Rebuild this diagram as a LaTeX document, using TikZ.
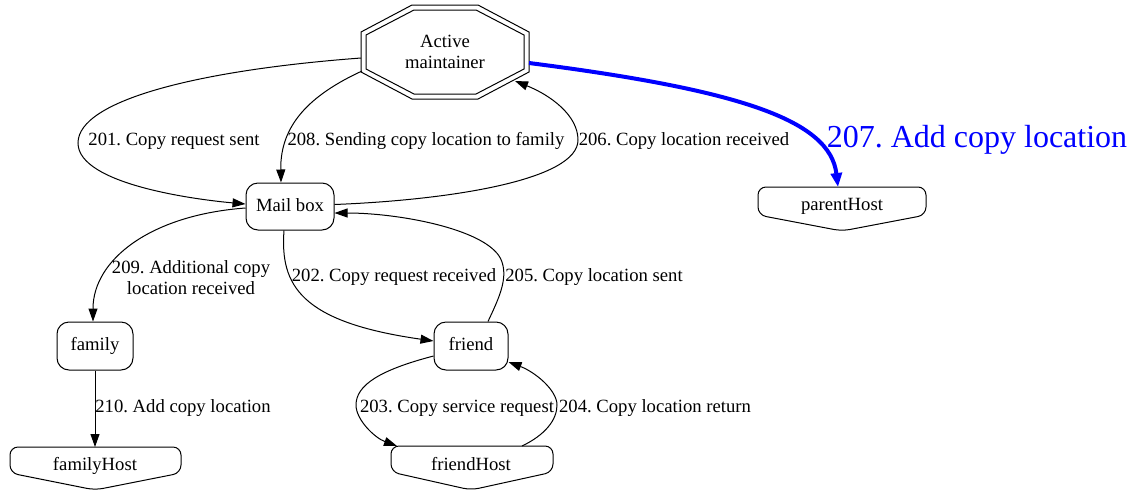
\documentclass[tikz,border=0pt]{standalone}
\usepackage{fontspec}
\setmainfont{Liberation Serif}
\usetikzlibrary{arrows.meta,calc}
\frenchspacing
\begin{document}
\frenchspacing
\begin{tikzpicture}[x=1pt,y=-1pt,
  txt/.style={font=\fontsize{18.67}{21}\selectfont, inner sep=0pt, align=center},
  one/.style={txt, text height=13pt, text depth=4pt},
  box/.style={draw, line width=1pt, rounded corners=12pt, font=\fontsize{18.67}{21}\selectfont, inner sep=0pt, text height=13pt, text depth=4pt},
  shp/.style={draw, line width=1pt},
  hostshape/.style={draw, line width=1pt, rounded corners=8pt},
  edge/.style={line width=1pt, -{Triangle[length=13pt,width=9pt]}},
  bedge/.style={draw=blue, line width=4pt, -{Triangle[length=14pt,width=11pt]}},
  blbl/.style={font=\fontsize{32}{36}\selectfont, text=blue, inner sep=0pt, text height=22pt, text depth=7pt}]
\useasboundingbox (0,0) rectangle (1141,491);
% nodes
\node[txt] (am) at (445,52) {Active\\maintainer};
\draw[shp] (412,5)--(478,5)--(529,32)--(529,72)--(478,99)--(412,99)--(361,72)--(361,32)--cycle;
\draw[shp] (414,10)--(476,10)--(524,35)--(524,69)--(476,94)--(414,94)--(366,69)--(366,35)--cycle;
\node[box, minimum width=88pt, minimum height=47pt] (mb) at (290,206.5) {Mail box};
\node[box, minimum width=74pt, minimum height=48pt] (fr) at (471,346) {friend};
\node[box, minimum width=76pt, minimum height=48pt] (fa) at (95,346) {family};
\node[one] (ph) at (842,205.5) {parentHost};
\draw[hostshape] (758,187)--(926,187)--(926,215)--(842,231)--(758,215)--cycle;
\node[one] (fh) at (95,466) {familyHost};
\draw[hostshape] (10,447)--(181,447)--(181,473)--(95,490)--(10,473)--cycle;
\node[one] (frh) at (471,466) {friendHost};
\draw[hostshape] (391,446)--(553,446)--(553,472)--(471,490)--(391,472)--cycle;
% attach points
\coordinate (amW) at (361,58);
\coordinate (amSW) at (362,71);
\coordinate (amSE) at (515,81);
\coordinate (amE) at (529,63);
\coordinate (phN) at (838,187);
\coordinate (fhN) at (95,447);
\coordinate (frhNW) at (397,446);
\coordinate (frhNE) at (522,446);
% edges
\draw[edge] (amW) .. controls (200,70) and (78,100) .. (78,143) .. controls (78,185) and (200,200) .. ($(mb.west)+(0,-2.5)$);
\node[one] (l201) at (174,140.5) {201. Copy request sent};
\draw[edge] (amSW) .. controls (310,95) and (280,125) .. ($(mb.north)+(-9,0)$);
\node[one] (l208) at (426,140.5) {208. Sending copy location to family};
\draw[edge] ($(mb.east)+(0,-2)$) .. controls (450,200) and (578,180) .. (578,140) .. controls (578,115) and (550,95) .. (amSE);
\node[one] (l206) at (684,140.5) {206. Copy location received};
\draw[bedge] (amE) .. controls (740,90) and (830,120) .. (phN);
\node[blbl] (l207) at (977,139.5) {207. Add copy location};
\draw[edge] ($(mb.west)+(0,1.5)$) .. controls (150,215) and (93,260) .. ($(fa.north)+(-2,0)$);
\node[txt] (l209) at (191,278) {209. Additional copy\\location received};
\draw[edge] ($(mb.south)+(-6,0)$) .. controls (280,285) and (300,322) .. ($(fr.west)+(0,-5)$);
\node[one] (l202) at (394,276.5) {202. Copy request received};
\draw[edge] ($(fr.north)+(17,0)$) .. controls (498,300) and (508,280) .. (502,262) .. controls (492,230) and (400,213) .. ($(mb.east)+(0,6.5)$);
\node[one] (l205) at (594,276.5) {205. Copy location sent};
\draw[edge] (fa.south) -- (fhN);
\node[one] (l210) at (183,407.5) {210. Add copy location};
\draw[edge] ($(fr.west)+(0,10)$) .. controls (380,370) and (356,385) .. (356,405) .. controls (356,420) and (375,438) .. (frhNW);
\node[one] (l203) at (457,407.5) {203. Copy service request};
\draw[edge] (frhNE) .. controls (545,435) and (557,420) .. (557,405) .. controls (557,390) and (535,372) .. ($(fr.east)+(0,16)$);
\node[one] (l204) at (655,407.5) {204. Copy location return};
\end{tikzpicture}
\end{document}
